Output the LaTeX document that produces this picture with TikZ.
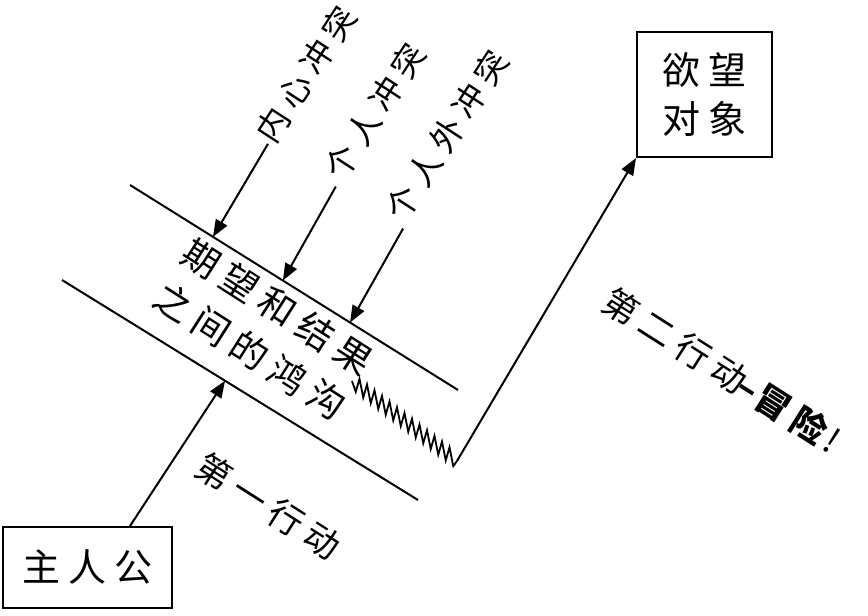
\documentclass[tikz,border=0pt]{standalone}
\usepackage{fontspec}
\setmainfont{Noto Sans CJK SC}[LetterSpace=22]
\usetikzlibrary{arrows.meta,calc}
\begin{document}
\begin{tikzpicture}[x=1pt,y=-1pt,
  ln/.style={line width=2pt},
  arr/.style={line width=2pt,-{Triangle[length=17pt,width=13pt]}},
  box/.style={draw,line width=2pt,inner sep=0pt},
  lbl/.style={inner sep=0pt,font=\fontsize{33}{40}\selectfont},
  act/.style={inner sep=0pt,font=\fontsize{35}{40}\selectfont},
  gap/.style={inner sep=0pt,align=left,font=\fontsize{37}{52}\selectfont}]
\useasboundingbox (0,0) rectangle (868,616);
% boxes
\node[box,minimum width=169pt,minimum height=81pt,font=\fontsize{38}{40}\selectfont] (hero) at (87.5,567.5) {主人公};
\node[box,minimum width=135pt,minimum height=125pt,align=center,font=\fontsize{38}{49}\selectfont] (desire) at (704.5,94.5) {欲望\\对象};
% the two parallel lines
\coordinate (U1) at (130,185); \coordinate (U2) at (458,390);
\coordinate (L1) at (62,280);  \coordinate (L2) at (418,500);
\draw[ln] (U1) -- (U2);
\draw[ln] (L1) -- (L2);
% gap text
\node[gap,rotate=-32.5] (gaptext) at (264,329) {期望和结果\\之间的鸿沟};
% conflict arrows
\coordinate (t1) at ($(U1)!0.253!(U2)$);
\coordinate (t2) at ($(U1)!0.466!(U2)$);
\coordinate (t3) at ($(U1)!0.671!(U2)$);
\coordinate (s1) at ($(t1)+(55,-93)$);
\coordinate (s2) at ($(t2)+(53,-94)$);
\coordinate (s3) at ($(t3)+(53,-94)$);
\draw[arr] (s1) -- (t1);
\draw[arr] (s2) -- (t2);
\draw[arr] (s3) -- (t3);
\node[lbl,rotate=57] (c1) at (306,74) {内心冲突};
\node[lbl,rotate=57] (c2) at (375,111) {个人冲突};
\node[lbl,rotate=57] (c3) at (447,135) {个人外冲突};
% first action
\coordinate (fa) at ($(L1)!0.458!(L2)$);
\draw[arr] ([xshift=42.5pt]hero.north) -- (fa);
\node[act,rotate=-32.5] (act1) at (268,506) {第一行动};
% zigzag and second action
\coordinate (z0) at (352,381);
\coordinate (z1) at (457,461);
\draw[line width=1.8pt,line join=miter] (z0)
  \foreach \i [evaluate=\i as \s using {2*mod(\i,2)-1}] in {1,...,27} { -- ($(z0)!\i/28!(z1)+(0,\s*8)$) } -- (z1);
\draw[arr] (z1) -- (desire.south west);
\node[act,rotate=-32.5] (act2) at (722,370) {第二行动\hspace{-4pt}{\bfseries –\hspace{2pt}冒险}\hspace{4pt}!};
\end{tikzpicture}
\end{document}
